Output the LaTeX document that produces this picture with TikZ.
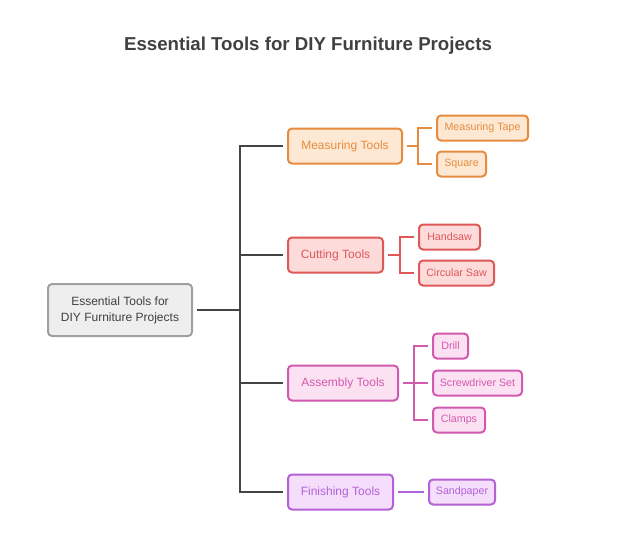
\documentclass[tikz,border=0pt]{standalone}
\usepackage{fontspec}
\setmainfont{Liberation Sans}
\usetikzlibrary{positioning}
\definecolor{titlegray}{RGB}{64,64,64}
\definecolor{linegray}{RGB}{68,68,68}
\definecolor{rootfill}{RGB}{238,238,238}
\definecolor{rootdraw}{RGB}{160,160,160}
\definecolor{measdraw}{RGB}{230,140,62}
\definecolor{measfill}{RGB}{253,232,212}
\definecolor{cutdraw}{RGB}{222,88,88}
\definecolor{cutfill}{RGB}{253,219,219}
\definecolor{asmdraw}{RGB}{210,90,174}
\definecolor{asmfill}{RGB}{252,225,243}
\definecolor{findraw}{RGB}{180,96,214}
\definecolor{finfill}{RGB}{244,222,252}

\begin{document}
\begin{tikzpicture}[x=0.75pt,y=-0.75pt,
    catbox/.style={draw, rounded corners=3pt, line width=1.5pt, anchor=west,
        inner sep=0pt, minimum height=26.25pt, font=\fontsize{9}{11}\selectfont},
    toolbox/.style={draw, rounded corners=3pt, line width=1.5pt, anchor=west,
        inner sep=0pt, minimum height=18.75pt, font=\fontsize{8}{10}\selectfont},
    meas/.style={draw=measdraw, fill=measfill, text=measdraw},
    cut/.style={draw=cutdraw, fill=cutfill, text=cutdraw},
    asm/.style={draw=asmdraw, fill=asmfill, text=asmdraw},
    fin/.style={draw=findraw, fill=finfill, text=findraw},
    link/.style={line width=1.5pt, shorten <=3pt, shorten >=3pt}]
\useasboundingbox (0,0) rectangle (617,533);

\node[font=\bfseries\fontsize{14}{16}\selectfont, text=titlegray] (title) at (308,46)
    {Essential Tools for DIY Furniture Projects};

\node[draw=rootdraw, fill=rootfill, text=titlegray, rounded corners=3pt, line width=1.5pt,
    minimum width=108pt, minimum height=39pt, inner sep=0pt, align=center,
    font=\fontsize{9}{12}\selectfont] (root) at (120,310)
    {Essential Tools for\\DIY Furniture Projects};

% categories
\node[catbox, meas, minimum width=85.5pt] (measuring) at (287,146) {Measuring Tools};
\node[catbox, cut, minimum width=71.25pt] (cutting) at (287,255) {Cutting Tools};
\node[catbox, asm, minimum width=82.5pt] (assembly) at (287,383) {Assembly Tools};
\node[catbox, fin, minimum width=78.75pt] (finishing) at (287,492) {Finishing Tools};

% tools
\node[toolbox, meas, minimum width=68.25pt] (tape) at (436,128) {Measuring Tape};
\node[toolbox, meas, minimum width=36.75pt] (square) at (436,164) {Square};
\node[toolbox, cut, minimum width=45.75pt] (handsaw) at (418,237) {Handsaw};
\node[toolbox, cut, minimum width=56.25pt] (circular) at (418,273) {Circular Saw};
\node[toolbox, asm, minimum width=26.25pt] (drill) at (432,346) {Drill};
\node[toolbox, asm, minimum width=66.75pt] (screwdriver) at (432,383) {Screwdriver Set};
\node[toolbox, asm, minimum width=39pt] (clamps) at (432,420) {Clamps};
\node[toolbox, fin, minimum width=49.5pt] (sandpaper) at (428,492) {Sandpaper};

\coordinate (trunk) at (240,310);
\coordinate (measj) at (418,146);
\coordinate (cutj) at (400,255);
\coordinate (asmj) at (414,383);

% trunk
\draw[link, linegray, shorten >=0pt] (root.east) -- (trunk);
\draw[link, linegray] (measuring.west) -| (trunk) |- (finishing.west);
\draw[link, linegray, shorten >=0pt] (cutting.west) -- (cutting.west -| trunk);
\draw[link, linegray, shorten >=0pt] (assembly.west) -- (assembly.west -| trunk);

% branches
\draw[link, measdraw, shorten >=0pt] (measuring.east) -- (measj);
\draw[link, measdraw] (tape.west) -| (measj) |- (square.west);
\draw[link, cutdraw, shorten >=0pt] (cutting.east) -- (cutj);
\draw[link, cutdraw] (handsaw.west) -| (cutj) |- (circular.west);
\draw[link, asmdraw] (assembly.east) -- (screwdriver.west);
\draw[link, asmdraw] (drill.west) -| (asmj) |- (clamps.west);
\draw[link, findraw] (finishing.east) -- (sandpaper.west);
\end{tikzpicture}
\end{document}
